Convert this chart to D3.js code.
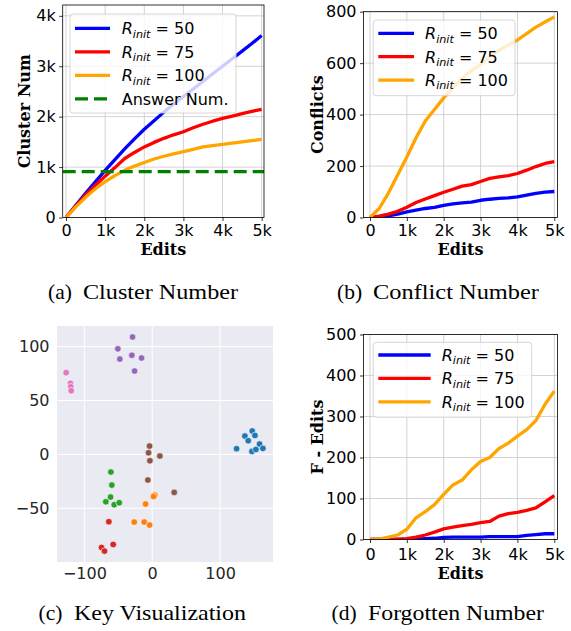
<!DOCTYPE html>
<html>
<head>
<meta charset="utf-8">
<script src="https://cdn.jsdelivr.net/npm/d3@7"></script>
<style>
  body { margin: 0; background: #fff; }
  text { white-space: pre; }
</style>
</head>
<body>
<div id="chart"></div>
<script>
// x values shared by the three line panels
const edits = [0, 250, 500, 750, 1000, 1250, 1500, 1750, 2000, 2250, 2500,
  2750, 3000, 3250, 3500, 3750, 4000, 4250, 4500, 4750, 5000]

// (a) cluster number
const clusterR50 = [0, 240, 480, 710, 935, 1150, 1360, 1560, 1750, 1920, 2090, 2250, 2400, 2550, 2700, 2850, 3000, 3150, 3300, 3450, 3610]
const clusterR75 = [0, 230, 450, 640, 820, 990, 1170, 1290, 1400, 1490, 1570, 1640, 1700, 1780, 1850, 1910, 1965, 2010, 2060, 2105, 2145]
const clusterR100 = [0, 210, 400, 570, 710, 830, 935, 1020, 1090, 1160, 1215, 1260, 1305, 1350, 1400, 1425, 1450, 1475, 1500, 1525, 1550]
const answerNum = 910

// (b) conflicts
const conflictR50 = [0, 1, 6, 13, 22, 29, 35, 39, 47, 53, 57, 60, 67, 71, 74, 76, 80, 87, 94, 99, 101]
const conflictR75 = [0, 5, 13, 24, 40, 58, 72, 85, 98, 110, 122, 128, 140, 152, 158, 163, 171, 184, 198, 210, 217]
const conflictR100 = [0, 35, 95, 165, 235, 310, 375, 420, 465, 505, 540, 570, 595, 625, 650, 670, 690, 715, 740, 760, 780]

// (d) forgotten edits
const forgotR50 = [0, 0, 0, 0, 0, 1, 2, 3, 5, 6, 6, 6, 6, 7, 7, 7, 7, 10, 12, 14, 14]
const forgotR75 = [0, 0, 0, 1, 2, 6, 11, 18, 26, 30, 34, 37, 41, 44, 57, 63, 66, 71, 77, 92, 107]
const forgotR100 = [0, 1, 6, 11, 25, 53, 68, 85, 110, 133, 145, 170, 190, 200, 222, 235, 252, 268, 290, 330, 362]

const rInit = ['50', '75', '100']
const lineColors = ['#0000ff', '#ff0000', '#ffa500']

// (c) key visualization: [x, y, cluster]
const keyPoints = [
  [-29, 109, 4], [-50.6, 98, 4], [-47.7, 88.5, 4], [-30, 92, 4], [-15.7, 89.5, 4], [-26, 77.4, 4],
  [-126.8, 75.9, 6], [-120.4, 66, 6], [-120, 62.8, 6], [-119.4, 59.1, 6],
  [124.3, 5.3, 0], [136.6, 17, 0], [141.5, 12.7, 0], [147.4, 21.7, 0], [151.4, 17.6, 0],
  [147, 2.8, 0], [152.8, 4.6, 0], [158.2, 9.6, 0], [163.1, 5.6, 0],
  [-3.9, 7.7, 5], [-5.4, 1.5, 5], [11.3, -1.5, 5], [-3.4, -5.9, 5], [-6.4, -23.8, 5], [32.4, -35.3, 5],
  [-60.9, -16.4, 2], [-59.5, -28.5, 2], [-61.4, -39.6, 2], [-68.3, -44, 2], [-56, -46.7, 2], [-48.6, -44.9, 2],
  [3.9, -37.8, 1], [2, -39, 1], [-9.8, -46.1, 1], [-26.5, -62.8, 1], [-11.8, -62.8, 1], [-3.9, -65.6, 1],
  [-63.9, -62.5, 3], [-57.5, -83.6, 3], [-74.7, -86.4, 3], [-70.3, -89.8, 3]
]
const keyTicksX = [-100, 0, 100]
const keyTicksY = [-50, 0, 50, 100]

const captions = [
  ['(a)', 'Cluster Number'], ['(b)', 'Conflict Number'],
  ['(c)', 'Key Visualization'], ['(d)', 'Forgotten Number']
]

const svg = d3.select('#chart').append('svg')
  .attr('width', 571).attr('height', 631)
  .style('font-family', '"DejaVu Sans", sans-serif')

const kFormat = d => d === 0 ? '0' : (d / 1000) + 'k'

function linePanel(o) {
  const g = svg.append('g')
  const x = d3.scaleLinear().domain(o.xDom).range([o.box[0], o.box[1]])
  const y = d3.scaleLinear().domain(o.yDom).range([o.box[3], o.box[2]])

  // grid
  g.append('g').selectAll('line').data(o.xTicks).join('line')
    .attr('x1', d => x(d)).attr('x2', d => x(d))
    .attr('y1', o.box[2]).attr('y2', o.box[3])
    .attr('stroke', '#c8c8c8').attr('stroke-width', 0.8)
  g.append('g').selectAll('line').data(o.yTicks).join('line')
    .attr('y1', d => y(d)).attr('y2', d => y(d))
    .attr('x1', o.box[0]).attr('x2', o.box[1])
    .attr('stroke', '#c8c8c8').attr('stroke-width', 0.8)

  const clipId = 'clip' + o.id
  svg.append('clipPath').attr('id', clipId).append('rect')
    .attr('x', o.box[0]).attr('y', o.box[2])
    .attr('width', o.box[1] - o.box[0]).attr('height', o.box[3] - o.box[2])

  const plot = g.append('g').attr('clip-path', `url(#${clipId})`)
  const line = d3.line().x((d, i) => x(edits[i])).y(d => y(d))
  o.series.forEach((s, i) => {
    plot.append('path').datum(s)
      .attr('d', line)
      .attr('fill', 'none')
      .attr('stroke', lineColors[i])
      .attr('stroke-width', 3.3)
      .attr('stroke-linejoin', 'round')
  })
  if (o.hline != null) {
    plot.append('line')
      .attr('x1', o.box[0]).attr('x2', o.box[1])
      .attr('y1', y(o.hline)).attr('y2', y(o.hline))
      .attr('stroke', '#008000').attr('stroke-width', 3.3)
      .attr('stroke-dasharray', '13,6')
  }

  // axes
  const ax = g.append('g').attr('transform', `translate(0,${o.box[3]})`)
    .call(d3.axisBottom(x).tickValues(o.xTicks).tickFormat(kFormat).tickSize(3.5).tickPadding(o.xPad))
  const ay = g.append('g').attr('transform', `translate(${o.box[0]},0)`)
    .call(d3.axisLeft(y).tickValues(o.yTicks).tickFormat(o.yFormat).tickSize(3.5).tickPadding(3.5))
  ;[ax, ay].forEach(a => {
    a.select('.domain').remove()
    a.selectAll('line').attr('stroke', '#000').attr('stroke-width', 0.8)
    a.selectAll('text').attr('fill', '#000').style('font-size', '16px')
      .style('font-family', '"DejaVu Sans", sans-serif')
  })
  g.append('rect')
    .attr('x', o.box[0]).attr('y', o.box[2])
    .attr('width', o.box[1] - o.box[0]).attr('height', o.box[3] - o.box[2])
    .attr('fill', 'none').attr('stroke', '#000').attr('stroke-width', 0.8)

  // axis labels
  const labStyle = t => t.attr('font-family', '"DejaVu Serif", serif')
    .attr('font-weight', 'bold').attr('font-size', 16).attr('text-anchor', 'middle')
  g.append('text').call(labStyle)
    .attr('x', (o.box[0] + o.box[1]) / 2).attr('y', o.xlabY).text('Edits')
  g.append('text').call(labStyle)
    .attr('transform', `translate(${o.ylabX},${(o.box[2] + o.box[3]) / 2}) rotate(-90)`)
    .text(o.ylab)

  // legend
  const L = o.legend
  const lg = g.append('g')
  lg.append('rect').attr('x', L.x).attr('y', L.y).attr('width', L.w).attr('height', L.h)
    .attr('rx', 3).attr('fill', '#fff').attr('fill-opacity', 0.8)
    .attr('stroke', '#cccccc').attr('stroke-width', 0.8)
  const rows = rInit.map((r, i) => ({ r, color: lineColors[i] }))
  if (o.hline != null) rows.push({ label: 'Answer Num.', color: '#008000', dash: '13,6' })
  rows.forEach((r, i) => {
    const ry = L.y0 + i * L.dy
    lg.append('line').attr('x1', L.lx0).attr('x2', L.lx1).attr('y1', ry).attr('y2', ry)
      .attr('stroke', r.color).attr('stroke-width', 3.3)
      .attr('stroke-dasharray', r.dash || null)
    const t = lg.append('text').attr('x', L.tx).attr('y', ry + 5.8)
      .attr('font-size', 16).attr('fill', '#000')
    if (r.r) {
      t.append('tspan').attr('font-style', 'italic').text('R')
      t.append('tspan').attr('font-style', 'italic').attr('font-size', 11.2).attr('dy', 3.5).text('init')
      t.append('tspan').attr('dy', -3.5).text(' = ' + r.r)
    } else {
      t.text(r.label)
    }
  })
}

linePanel({
  id: 'a', box: [62.7, 264, 5, 217.5], xDom: [-85, 5060], yDom: [0, 4215],
  xTicks: [0, 1000, 2000, 3000, 4000, 5000], yTicks: [0, 1000, 2000, 3000, 4000], yFormat: kFormat,
  series: [clusterR50, clusterR75, clusterR100], hline: answerNum,
  ylab: 'Cluster Num', ylabX: 30, xlabY: 255, xPad: 3.5,
  legend: { x: 70, y: 14, w: 166, h: 99, y0: 28.3, dy: 23.5, lx0: 75, lx1: 110, tx: 121.7 }
})

linePanel({
  id: 'b', box: [363.5, 557.5, 11.7, 217.5], xDom: [-176, 5087], yDom: [0, 800],
  xTicks: [0, 1000, 2000, 3000, 4000, 5000], yTicks: [0, 200, 400, 600, 800], yFormat: d => d,
  series: [conflictR50, conflictR75, conflictR100],
  ylab: 'Conflicts', ylabX: 323, xlabY: 255, xPad: 3.5,
  legend: { x: 373.3, y: 20, w: 141.7, h: 75.7, y0: 33.3, dy: 23.4, lx0: 378.3, lx1: 414, tx: 425 }
})

linePanel({
  id: 'd', box: [363.5, 557.5, 334.5, 539.5], xDom: [-176, 5087], yDom: [0, 500],
  xTicks: [0, 1000, 2000, 3000, 4000, 5000], yTicks: [0, 100, 200, 300, 400, 500], yFormat: d => d,
  series: [forgotR50, forgotR75, forgotR100],
  ylab: 'F - Edits', ylabX: 323, xlabY: 579, xPad: 5.5,
  legend: { x: 373.3, y: 342.3, w: 158.4, h: 75, y0: 355, dy: 23.4, lx0: 378.3, lx1: 430.7, tx: 441.7 }
})

// (c) scatter, seaborn darkgrid look
{
  const box = [57, 273, 326, 562]
  const g = svg.append('g')
  const x = d3.scaleLinear().domain([-140.3, 178]).range([box[0], box[1]])
  const y = d3.scaleLinear().domain([-99.9, 119.2]).range([box[3], box[2]])
  const tab10 = ['#1f77b4', '#ff7f0e', '#2ca02c', '#d62728', '#9467bd', '#8c564b', '#e377c2']
  const fmt = d => d < 0 ? '\u2212' + Math.abs(d) : String(d)

  g.append('rect').attr('x', box[0]).attr('y', box[2])
    .attr('width', box[1] - box[0]).attr('height', box[3] - box[2]).attr('fill', '#eaeaf2')
  g.append('g').selectAll('line').data(keyTicksX).join('line')
    .attr('x1', d => x(d)).attr('x2', d => x(d)).attr('y1', box[2]).attr('y2', box[3])
    .attr('stroke', '#fff').attr('stroke-width', 1)
  g.append('g').selectAll('line').data(keyTicksY).join('line')
    .attr('y1', d => y(d)).attr('y2', d => y(d)).attr('x1', box[0]).attr('x2', box[1])
    .attr('stroke', '#fff').attr('stroke-width', 1)

  g.append('g').selectAll('circle').data(keyPoints).join('circle')
    .attr('cx', d => x(d[0])).attr('cy', d => y(d[1])).attr('r', 3.3)
    .attr('fill', d => tab10[d[2]]).attr('stroke', '#fff').attr('stroke-width', 0.6)

  const ax = g.append('g').attr('transform', `translate(0,${box[3]})`)
    .call(d3.axisBottom(x).tickValues(keyTicksX).tickFormat(fmt).tickSize(0).tickPadding(6))
  const ay = g.append('g').attr('transform', `translate(${box[0]},0)`)
    .call(d3.axisLeft(y).tickValues(keyTicksY).tickFormat(fmt).tickSize(0).tickPadding(7.5))
  ;[ax, ay].forEach(a => {
    a.select('.domain').remove()
    a.selectAll('text').attr('fill', '#262626').style('font-size', '16px')
      .style('font-family', '"DejaVu Sans", sans-serif')
  })
}

// captions: [label x, title x, title width, baseline]
const capPos = [[48, 83, 155, 299], [337, 373, 166, 299], [38.5, 74, 172, 620], [331.5, 368, 176, 620]]
captions.forEach((c, i) => {
  const [x0, x1, w, yb] = capPos[i]
  svg.append('text').attr('x', x0).attr('y', yb).text(c[0])
    .attr('font-family', '"Liberation Serif", serif').attr('font-size', 21.5)
  svg.append('text').attr('x', x1).attr('y', yb).text(c[1])
    .attr('font-family', '"Liberation Serif", serif').attr('font-size', 21.5)
    .attr('textLength', w).attr('lengthAdjust', 'spacingAndGlyphs')
})
</script>
</body>
</html>
